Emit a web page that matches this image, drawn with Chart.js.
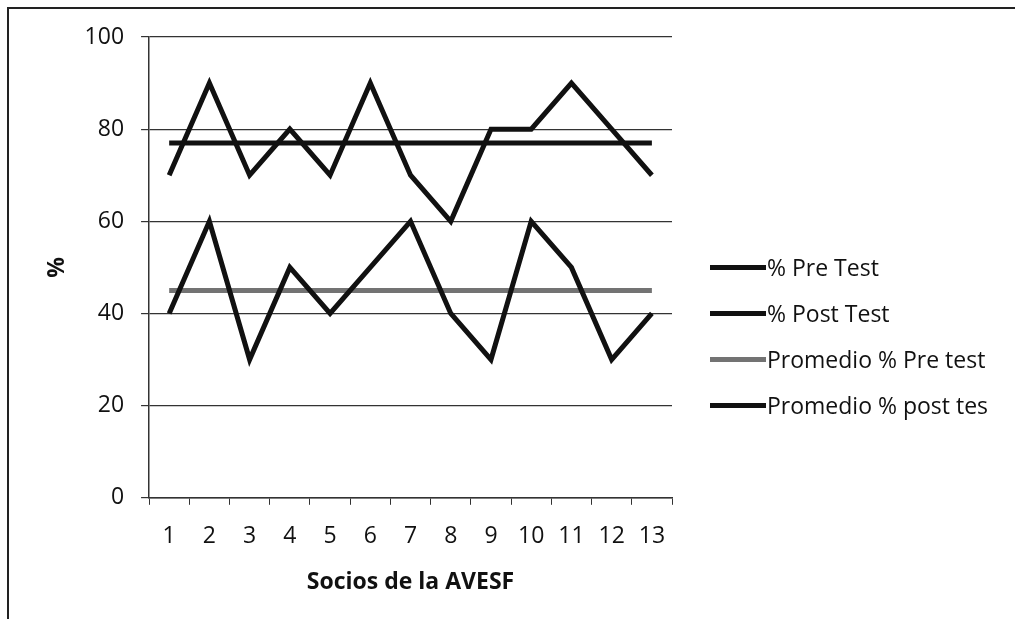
<!DOCTYPE html>
<html>
<head>
<meta charset="utf-8">
<script src="https://cdn.jsdelivr.net/npm/chart.js@4/dist/chart.umd.min.js"></script>
<style>
  body { margin: 0; background: #fff; }
  #wrap { position: relative; width: 1015px; height: 619px; }
  #frame { position: absolute; left: 7px; top: 7px; right: 0; bottom: 0; border-left: 2px solid #222; border-top: 2px solid #222; pointer-events: none; }
  #leyenda { position: absolute; left: 710px; top: 244px; font-family: 'Open Sans', sans-serif; font-size: 23px; color: #111; }
  #leyenda div { display: flex; align-items: center; height: 46px; white-space: nowrap; }
  #leyenda span.linea { display: inline-block; width: 56px; height: 5px; margin-right: 1px; }
</style>
</head>
<body>
<div id="wrap">
  <canvas id="chartCanvas1" width="1015" height="619"></canvas>
  <div id="leyenda"></div>
  <div id="frame"></div>
</div>
<script>
// categorias (socios)
const socios = ["1", "2", "3", "4", "5", "6", "7", "8", "9", "10", "11", "12", "13"];

// valores
const preTest = [40, 60, 30, 50, 40, 50, 60, 40, 30, 60, 50, 30, 40];
const postTest = [70, 90, 70, 80, 70, 90, 70, 60, 80, 80, 90, 80, 70];
const promedioPre = [45, 45, 45, 45, 45, 45, 45, 45, 45, 45, 45, 45, 45];
const promedioPost = [77, 77, 77, 77, 77, 77, 77, 77, 77, 77, 77, 77, 77];

const fuente = "'Open Sans', sans-serif";

document.addEventListener("DOMContentLoaded", () => {
  const ctx = document.getElementById("chartCanvas1").getContext("2d");
  const chart = new Chart(ctx, {
    type: "line",
    data: {
      labels: socios,
      datasets: [
        { label: "% Pre Test", data: preTest, borderColor: "#111", backgroundColor: "#111", borderWidth: 5 },
        { label: "% Post Test", data: postTest, borderColor: "#111", backgroundColor: "#111", borderWidth: 5 },
        { label: "Promedio % Pre test", data: promedioPre, borderColor: "#737373", backgroundColor: "#737373", borderWidth: 5 },
        { label: "Promedio % post tes", data: promedioPost, borderColor: "#111", backgroundColor: "#111", borderWidth: 5 },
      ],
    },
    options: {
      responsive: false,
      animation: false,
      elements: { point: { radius: 0 }, line: { tension: 0, borderJoinStyle: "miter" } },
      layout: { padding: { left: 44, top: 37, right: 343, bottom: 23 } },
      plugins: {
        legend: { display: false },
        tooltip: { enabled: false },
      },
      scales: {
        x: {
          offset: true,
          grid: { offset: true, drawOnChartArea: false, drawTicks: true, tickLength: 7, color: "#333" },
          border: { color: "#333", width: 1.5 },
          ticks: { color: "#111", padding: 18, font: { family: fuente, size: 23 } },
          title: { display: true, text: "Socios de la AVESF", color: "#111", padding: { top: 0, bottom: 0 }, font: { family: fuente, size: 23, weight: "bold" } },
        },
        y: {
          min: 0,
          max: 100,
          ticks: { stepSize: 20, color: "#111", padding: 17, font: { family: fuente, size: 23 } },
          grid: { color: "#333", lineWidth: 1.2, tickLength: 8 },
          border: { color: "#333", width: 1.5 },
          title: { display: true, text: "%", color: "#111", padding: { top: 0, bottom: -4 }, font: { family: fuente, size: 23, weight: "bold" } },
        },
      },
    },
  });

  // leyenda a la derecha, hecha con los datasets
  const leyenda = document.getElementById("leyenda");
  chart.data.datasets.forEach((ds) => {
    const fila = document.createElement("div");
    const linea = document.createElement("span");
    linea.className = "linea";
    linea.style.background = ds.borderColor;
    fila.appendChild(linea);
    fila.appendChild(document.createTextNode(ds.label));
    leyenda.appendChild(fila);
  });
});
</script>
</body>
</html>
